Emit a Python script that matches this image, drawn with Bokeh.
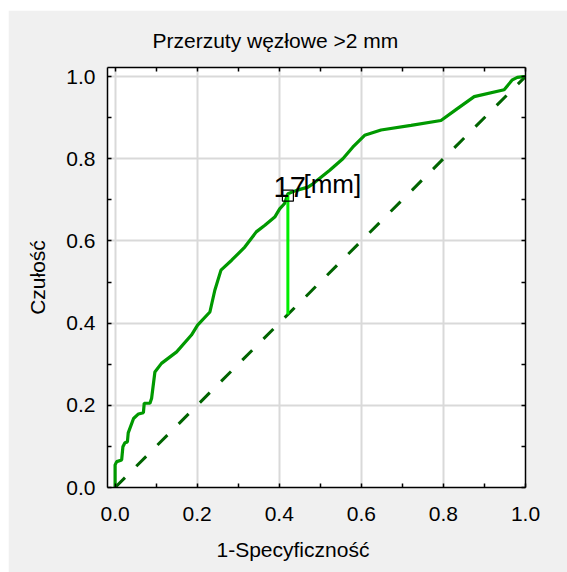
import math
from bokeh.plotting import figure
from bokeh.models import Range1d, LinearAxis, FixedTicker, Label, Title
from bokeh.embed import file_html
from bokeh.resources import INLINE

# ---- data ----
title_text = "Przerzuty węzłowe >2 mm"
x_label = "1-Specyficzność"
y_label = "Czułość"
tick_values = [0.0, 0.2, 0.4, 0.6, 0.8, 1.0]
tick_labels = ["0.0", "0.2", "0.4", "0.6", "0.8", "1.0"]
minor_tick_values = [0.1, 0.3, 0.5, 0.7, 0.9]

fpr = [0.0, 0.0, 0.004, 0.016, 0.019, 0.024, 0.030, 0.032, 0.045, 0.057, 0.069, 0.071,
       0.085, 0.089, 0.097, 0.113, 0.150, 0.186, 0.201, 0.231, 0.243, 0.258, 0.284,
       0.316, 0.344, 0.365, 0.389, 0.401, 0.413, 0.421, 0.442, 0.470, 0.482, 0.523,
       0.555, 0.579, 0.608, 0.648, 0.721, 0.794, 0.834, 0.875, 0.948, 0.968, 0.980,
       0.996, 1.0]
tpr = [0.0, 0.055, 0.063, 0.067, 0.099, 0.109, 0.111, 0.133, 0.168, 0.179, 0.182, 0.205,
       0.205, 0.217, 0.281, 0.302, 0.330, 0.371, 0.395, 0.427, 0.480, 0.529, 0.553,
       0.585, 0.622, 0.638, 0.658, 0.678, 0.691, 0.715, 0.723, 0.731, 0.739, 0.772,
       0.800, 0.828, 0.857, 0.870, 0.881, 0.893, 0.922, 0.951, 0.968, 0.992, 0.998,
       1.0, 1.0]

diag_x = [0.0, 1.0]
diag_y = [0.0, 1.0]

cut_fpr = 0.421
cut_tpr = 0.714
cut_value = "17"
cut_unit = "[mm]"

FONT = "Liberation Sans"
BG = "#f0f0f0"

p = figure(width=559, height=562,
           x_range=Range1d(-0.0185, 1.0), y_range=Range1d(0.0, 1.022),
           output_backend="svg", toolbar_location=None,
           min_border_left=98, min_border_right=42, min_border_top=57, min_border_bottom=85,
           background_fill_color="white", border_fill_color=BG,
           outline_line_color=None, margin=(10, 0, 0, 8))

overrides = {v: l for v, l in zip(tick_values, tick_labels)}
blank = {v: "" for v in tick_values}

def style_axis(ax, labels=True, standoff=12):
    ax.ticker = FixedTicker(ticks=tick_values, minor_ticks=minor_tick_values)
    ax.axis_line_color = "black"
    ax.axis_line_width = 1.5
    ax.major_tick_in = 4
    ax.major_tick_out = 0
    ax.minor_tick_in = 4
    ax.minor_tick_out = 0
    ax.major_tick_line_color = "black"
    ax.minor_tick_line_color = "black"
    ax.major_tick_line_width = 1.5
    ax.minor_tick_line_width = 1.5
    ax.major_label_text_font = FONT
    if labels:
        ax.major_label_overrides = overrides
        ax.major_label_text_font_size = "21px"
        ax.major_label_text_color = "black"
        ax.major_label_standoff = standoff
    else:
        ax.major_label_overrides = blank
        ax.major_label_standoff = 0

style_axis(p.xaxis[0], standoff=19)
style_axis(p.yaxis[0], standoff=12)
top_ax = LinearAxis()
right_ax = LinearAxis()
style_axis(top_ax, labels=False)
style_axis(right_ax, labels=False)
p.add_layout(top_ax, "above")
p.add_layout(right_ax, "right")

p.xgrid.ticker = FixedTicker(ticks=tick_values)
p.ygrid.ticker = FixedTicker(ticks=tick_values)
for g in (p.xgrid, p.ygrid):
    g.grid_line_color = "#d9d9d9"
    g.grid_line_width = 2

# title and axis labels
p.title.text = title_text
p.title.align = "left"
p.title.offset = 45
p.title.text_font = FONT
p.title.text_font_size = "21px"
p.title.text_font_style = "normal"
p.title.text_color = "black"
p.title.standoff = 32

p.add_layout(Title(text=x_label, align="left", offset=109, text_font=FONT,
                   text_font_size="21px", text_font_style="normal",
                   text_color="black", standoff=24), "below")
p.add_layout(Title(text=y_label, align="center", text_font=FONT,
                   text_font_size="21px", text_font_style="normal",
                   text_color="black", standoff=30), "left")

# diagonal reference line
p.line(diag_x, diag_y, line_color="#006400", line_width=3, line_dash="14 16")

# ROC curve
p.line(fpr, tpr, line_color="#009900", line_width=3.2)

# cut-off vertical line and marker
p.segment(x0=[cut_fpr], y0=[cut_fpr], x1=[cut_fpr], y1=[cut_tpr],
          line_color="#00ee00", line_width=3)
p.scatter([cut_fpr], [cut_tpr - 0.004], marker="square", size=11,
          fill_color=None, line_color="black", line_width=1.2)

p.add_layout(Label(x=0.386, y=0.731, text=cut_value, text_font=FONT,
                   text_font_size="29px", text_color="black",
                   text_align="left", text_baseline="alphabetic"))
p.add_layout(Label(x=0.459, y=0.739, text=cut_unit, text_font=FONT,
                   text_font_size="26px", text_color="black",
                   text_align="left", text_baseline="alphabetic"))

open("out.html", "w").write(file_html(p, INLINE))
